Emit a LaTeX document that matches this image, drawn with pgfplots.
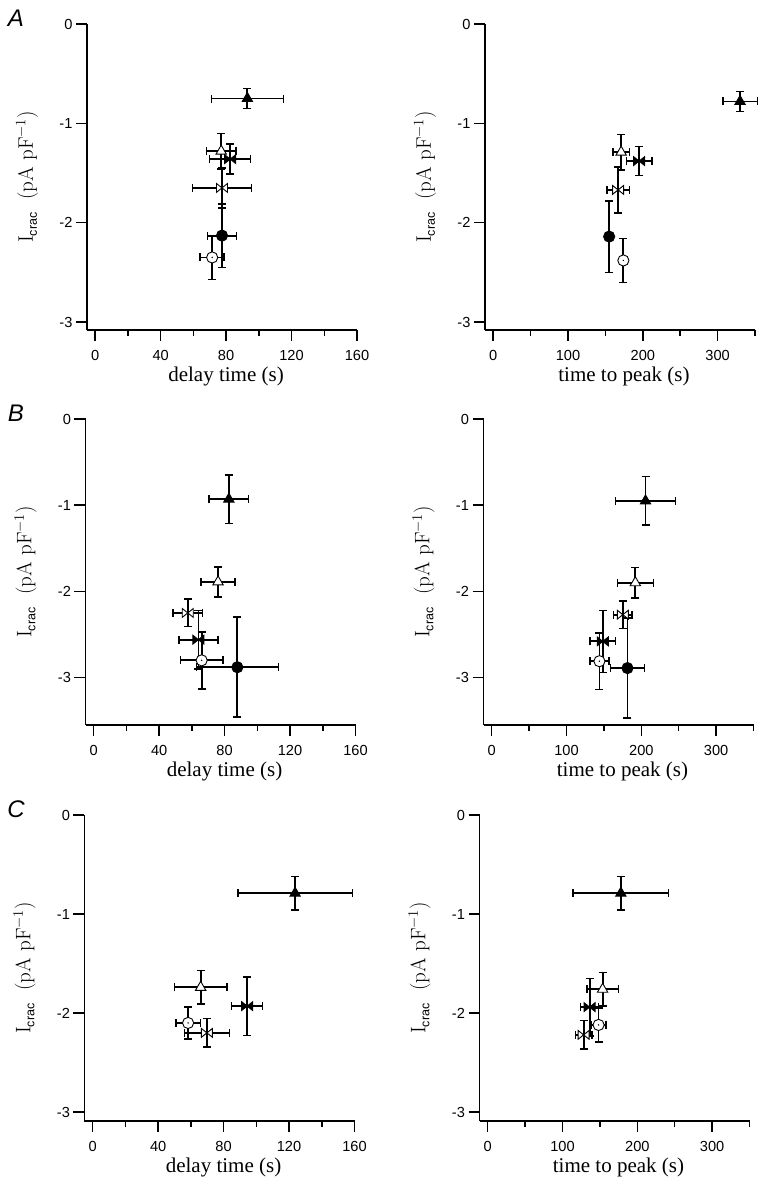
\documentclass[border=0pt]{standalone}
\usepackage{pgfplots}
\pgfplotsset{compat=1.18}
\usepackage{fontspec}
\newfontfamily\ticksf{Liberation Sans}
\newfontfamily\labserif{Liberation Serif}

\pgfdeclareplotmark{bowtie}{%
  \pgfpathmoveto{\pgfqpoint{-\pgfplotmarksize}{0.8\pgfplotmarksize}}%
  \pgfpathlineto{\pgfqpoint{-\pgfplotmarksize}{-0.8\pgfplotmarksize}}%
  \pgfpathlineto{\pgfqpoint{\pgfplotmarksize}{0.8\pgfplotmarksize}}%
  \pgfpathlineto{\pgfqpoint{\pgfplotmarksize}{-0.8\pgfplotmarksize}}%
  \pgfpathclose
  \pgfusepathqfillstroke}
\pgfdeclareplotmark{odot}{%
  \pgfpathcircle{\pgfpointorigin}{\pgfplotmarksize}%
  \pgfusepathqfillstroke
  \pgfsetfillcolor{black}%
  \pgfpathcircle{\pgfpointorigin}{0.8pt}%
  \pgfusepathqfill}

\pgfplotsset{
  panel/.style={
    scale only axis, width=270pt, height=306pt,
    axis x line*=bottom, axis y line*=left,
    axis line style={-, line width=1.6pt},
    tick align=outside,
    major tick length=11pt, minor tick length=6pt,
    every tick/.style={black, line width=1.5pt},
    ymax=0, ytick={-3,-2,-1,0}, yticklabels={-3,-2,-1,0},
    tick label style={font=\fontsize{14.6}{16}\selectfont\ticksf},
    xticklabel style={yshift=-6pt},
    ylabel={I\raisebox{-0.45ex}{\fontsize{12.5}{14}\selectfont\ticksf crac}\ \ (pA pF$^{-1}$)},
    ylabel style={font=\fontsize{21}{24}\selectfont, at={(axis description cs:-0.222,0.5)}, anchor=center},
    xlabel style={font=\fontsize{21}{24}\selectfont\labserif, at={(axis description cs:0.5,0)}, anchor=base, yshift=-52pt, xshift=4pt},
    clip=false,
  },
  dl/.style={panel, xmin=-5, xmax=160, xtick={0,40,80,120,160}, xticklabels={0,40,80,120,160},
    minor xtick={20,60,100,140}, xlabel={delay time (s)}},
  tp/.style={panel, xmin=-11, xmax=350, xtick={0,100,200,300}, xticklabels={0,100,200,300},
    minor xtick={50,150,250,350}, xlabel={time to peak (s)}},
  eb/.style={black, only marks, line width=0.9pt,
    error bars/x dir=both, error bars/x explicit, error bars/y dir=both, error bars/y explicit,
    error bars/error bar style={line width=1.8pt, black},
    error bars/error mark options={rotate=90, line width=1.5pt, mark size=4pt, black}},
  ftri/.style={eb, mark=triangle*, mark size=6pt, mark options={fill=black}},
  otri/.style={eb, mark=triangle*, mark size=6pt, mark options={fill=white}},
  fbow/.style={eb, mark=bowtie, mark size=5.5pt, mark options={fill=black}},
  obow/.style={eb, mark=bowtie, mark size=5.5pt, mark options={fill=white}},
  fcirc/.style={eb, mark=*, mark size=5.6pt, mark options={fill=black}},
  ocirc/.style={eb, mark=odot, mark size=5.6pt, mark options={fill=white}},
}

\begin{document}
\begin{tikzpicture}
\useasboundingbox (0,0) rectangle (762pt,1188pt);

\node[font=\fontsize{24}{28}\selectfont\ticksf\itshape] at (16pt,1170pt) {A};
\node[font=\fontsize{24}{28}\selectfont\ticksf\itshape] at (16pt,774.5pt) {B};
\node[font=\fontsize{24}{28}\selectfont\ticksf\itshape] at (16pt,379pt) {C};

% ---------- A left
\begin{axis}[dl, ymin=-3.08, at={(87pt,858pt)}, anchor=south west]
\addplot[otri] coordinates {(77,-1.28) +- (9,0.18)};
\addplot[fbow] coordinates {(82.5,-1.36) +- (12.5,0.15)};
\addplot[obow] coordinates {(77.5,-1.65) +- (18,0.20)};
\addplot[fcirc] coordinates {(77.5,-2.13) +- (9,0.32)};
\addplot[ocirc] coordinates {(71.5,-2.35) +- (7.3,0.22)};
\addplot[ftri] coordinates {(93,-0.75) +- (22,0.10)};
\end{axis}

% ---------- A right
\begin{axis}[tp, ymin=-3.08, at={(485pt,858pt)}, anchor=south west]
\addplot[otri] coordinates {(171,-1.29) +- (11,0.18)};
\addplot[fbow] coordinates {(195,-1.38) +- (17,0.145)};
\addplot[obow] coordinates {(167,-1.67) +- (15,0.23)};
\addplot[fcirc] coordinates {(155,-2.14) +- (3,0.36)};
\addplot[ocirc] coordinates {(174,-2.38) +- (5,0.22)};
\addplot[ftri] coordinates {(330,-0.78) +- (23,0.10)};
\end{axis}

% ---------- B left
\begin{axis}[dl, ymin=-3.55, at={(85.5pt,463pt)}, anchor=south west]
\addplot[otri] coordinates {(76,-1.89) +- (10.5,0.175)};
\addplot[obow] coordinates {(57.5,-2.25) +- (9,0.16)};
\addplot[fbow] coordinates {(64,-2.56) +- (12,0.34)};
\addplot[ocirc] coordinates {(66,-2.80) +- (13,0.33)};
\addplot[fcirc] coordinates {(87.8,-2.88) +- (25,0.58)};
\addplot[ftri] coordinates {(82.6,-0.93) +- (12,0.28)};
\end{axis}

% ---------- B right
\begin{axis}[tp, ymin=-3.55, at={(483.5pt,463pt)}, anchor=south west]
\addplot[otri] coordinates {(192,-1.90) +- (24,0.175)};
\addplot[obow] coordinates {(175.3,-2.27) +- (12.5,0.16)};
\addplot[fbow] coordinates {(148.5,-2.58) +- (17,0.36)};
\addplot[ocirc] coordinates {(144,-2.81) +- (12.5,0.33)};
\addplot[fcirc] coordinates {(181.5,-2.89) +- (23,0.58)};
\addplot[ftri] coordinates {(205.6,-0.95) +- (40,0.28)};
\end{axis}

% ---------- C left
\begin{axis}[dl, ymin=-3.09, at={(84.5pt,67pt)}, anchor=south west]
\addplot[otri] coordinates {(66,-1.74) +- (16,0.17)};
\addplot[fbow] coordinates {(94.4,-1.93) +- (9.5,0.295)};
\addplot[ocirc] coordinates {(58.3,-2.10) +- (7.5,0.16)};
\addplot[obow] coordinates {(69.8,-2.20) +- (13.7,0.145)};
\addplot[ftri] coordinates {(123.7,-0.79) +- (35,0.17)};
\end{axis}

% ---------- C right
\begin{axis}[tp, ymin=-3.09, at={(479.5pt,67pt)}, anchor=south west]
\addplot[otri] coordinates {(153.6,-1.76) +- (21,0.17)};
\addplot[fbow] coordinates {(136.2,-1.94) +- (12,0.29)};
\addplot[ocirc] coordinates {(148.2,-2.12) +- (10,0.17)};
\addplot[obow] coordinates {(128.2,-2.22) +- (11,0.145)};
\addplot[ftri] coordinates {(178,-0.79) +- (64,0.17)};
\end{axis}
\end{tikzpicture}
\end{document}
